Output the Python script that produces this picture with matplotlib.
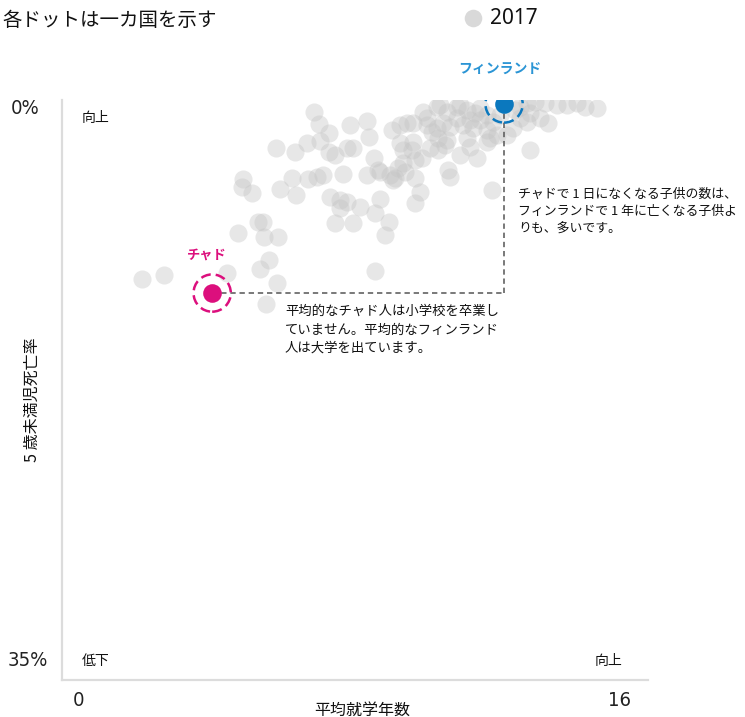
import matplotlib
matplotlib.use('Agg')
import matplotlib.pyplot as plt

# ---- data ----
schooling_years = [
    2.18, 2.79, 4.51, 5.57, 5.87, 5.41, 5.65, 4.81, 5.52, 5.90,
    5.35, 5.49, 4.94, 4.91, 5.19, 5.95, 6.28, 6.39, 6.72, 6.96,
    7.13, 7.67, 7.32, 7.59, 7.78, 7.59, 8.14, 7.45, 7.95, 8.55,
    8.68, 8.93, 8.82, 8.55, 5.84, 6.36, 6.69, 7.04, 7.29, 7.45,
    7.78, 7.95, 6.88, 7.02, 7.29, 7.86, 8.33, 8.38, 8.52, 8.63,
    8.33, 8.68, 9.09, 9.37, 9.64, 9.77, 9.64, 9.04, 9.01, 9.23,
    9.42, 9.58, 9.23, 9.31, 9.58, 9.56, 9.64, 9.31, 9.17, 9.83,
    9.97, 10.24, 10.51, 10.79, 11.06, 11.28, 11.41, 9.86, 10.32, 10.87,
    11.41, 11.60, 9.97, 10.24, 10.59, 10.95, 11.22, 11.60, 10.40, 11.77,
    10.27, 10.51, 11.06, 11.60, 11.88, 10.05, 10.27, 10.87, 11.33, 10.54,
    10.59, 12.15, 12.31, 11.69, 12.51, 12.70, 12.78, 13.05, 13.27, 12.70,
    12.91, 13.19, 13.52, 13.79, 14.06, 14.28, 14.61, 12.51, 12.78, 11.74,
    11.14, 8.96, 12.37, 10.79, 10.10, 11.14, 11.96, 10.46,
]
child_mortality = [
    10.80, 10.56, 10.44, 12.31, 11.04, 10.20, 9.66, 8.03, 8.27, 8.27,
    7.36, 7.36, 4.77, 5.25, 5.61, 5.37, 4.71, 5.73, 4.77, 4.65,
    4.53, 4.47, 5.85, 6.03, 6.16, 6.52, 6.46, 7.42, 7.42, 6.82,
    5.97, 7.36, 8.15, 10.32, 2.90, 3.14, 2.59, 2.47, 3.14, 3.32,
    2.90, 2.90, 0.72, 1.45, 1.99, 1.51, 1.27, 2.23, 3.50, 4.22,
    4.53, 4.34, 4.71, 4.34, 4.71, 5.55, 6.22, 4.83, 1.81, 1.51,
    1.39, 1.39, 2.59, 3.02, 2.53, 3.02, 3.62, 3.80, 4.10, 3.50,
    1.09, 0.42, 0.72, 0.42, 0.60, 0.78, 1.21, 0.72, 0.30, 0.30,
    0.48, 0.91, 1.51, 1.69, 1.63, 1.51, 1.69, 1.81, 1.39, 1.33,
    2.29, 2.41, 2.29, 2.53, 2.11, 2.90, 3.02, 3.32, 3.50, 4.22,
    4.65, 2.11, 1.69, 2.29, 1.09, 1.33, 0.78, 1.09, 1.39, 0.18,
    0.12, 0.18, 0.30, 0.30, 0.18, 0.42, 0.48, 0.42, 3.02, 5.43,
    2.84, 4.53, 0.60, 1.09, 1.93, 1.21, 0.91, 2.72,
]
chad_x, chad_y = 4.10, 11.65
finland_x, finland_y = 12.07, 0.24
year_label = "2017"
title = "各ドットは一カ国を示す"
x_title = "平均就学年数"
y_title = "5 歳未満児死亡率"
x_tick_labels = ["0", "16"]
y_tick_labels = ["0%", "35%"]
note_finland = "チャドで 1 日になくなる子供の数は、\nフィンランドで 1 年に亡くなる子供よ\nりも、多いです。"
note_chad = "平均的なチャド人は小学校を卒業し\nていません。平均的なフィンランド\n人は大学を出ています。"

# ---- style ----
CJK = ['Noto Sans CJK JP', 'DejaVu Sans']
plt.rcParams['font.family'] = CJK
CHAD = '#DC0F7D'
FIN = '#0B78BE'
FIN_LABEL = '#2B95D5'
GREY = '#c4c4c4'
SPINE = '#dcdcdc'
TXT = '#111111'
NUM = dict(family=['DejaVu Sans'], fontstretch='condensed', fontweight='light',
           fontsize=14.5, color='#222222')

W, H = 745, 717
def fx(px):
    return px / W
def fy(py):
    return 1 - py / H

fig = plt.figure(figsize=(W / 100, H / 100), dpi=100)
ax = fig.add_axes([fx(62), fy(680), (648 - 62) / W, (680 - 100) / H])
ax.set_xlim(0, 16)
ax.set_ylim(35, 0)

ax.scatter(schooling_years, child_mortality, s=170, color=GREY, alpha=0.4,
           linewidths=0, zorder=2)

# connector lines
ax.plot([chad_x, finland_x], [chad_y, chad_y], color='#555555', lw=1.1,
        ls=(0, (3.5, 2.5)), zorder=3)
ax.plot([finland_x, finland_x], [chad_y, finland_y], color='#555555', lw=1.1,
        ls=(0, (3.5, 2.5)), zorder=3)

# highlighted countries
for px_, py_, c in [(chad_x, chad_y, CHAD), (finland_x, finland_y, FIN)]:
    ax.scatter([px_], [py_], s=720, facecolors='none', edgecolors=c,
               linewidths=1.8, linestyle=(0, (4, 2)), zorder=4)
    ax.scatter([px_], [py_], s=180, color=c, linewidths=0, zorder=5)

for side in ['top', 'right']:
    ax.spines[side].set_visible(False)
for side in ['left', 'bottom']:
    ax.spines[side].set_color(SPINE)
    ax.spines[side].set_linewidth(1.6)
ax.set_xticks([])
ax.set_yticks([])

# labels for highlighted countries
fig.text(fx(207), fy(255), "チャド", color=CHAD, fontsize=9.5, fontweight='bold',
         ha='center', va='center')
fig.text(fx(500), fy(70), "フィンランド", color=FIN_LABEL, fontsize=10,
         fontweight='bold', ha='center', va='center')

# annotations
fig.text(fx(518), fy(188), note_finland, fontsize=9.3, color=TXT, ha='left',
         va='top', linespacing=1.42)
fig.text(fx(285), fy(304), note_chad, fontsize=9.6, color=TXT, ha='left',
         va='top', linespacing=1.4)

# corner labels
fig.text(fx(82), fy(118), "向上", fontsize=10, color=TXT, ha='left', va='center')
fig.text(fx(82), fy(661), "低下", fontsize=10, color=TXT, ha='left', va='center')
fig.text(fx(622), fy(661), "向上", fontsize=10, color=TXT, ha='right', va='center')

# tick labels
fig.text(fx(40), fy(109), y_tick_labels[0], ha='right', va='center', **NUM)
fig.text(fx(48), fy(661), y_tick_labels[1], ha='right', va='center', **NUM)
fig.text(fx(78), fy(700), x_tick_labels[0], ha='center', va='center', **NUM)
fig.text(fx(620), fy(700), x_tick_labels[1], ha='center', va='center', **NUM)

# axis titles
fig.text(fx(362), fy(710), x_title, fontsize=11.5, color=TXT, ha='center',
         va='center')
fig.text(fx(32), fy(400), y_title, fontsize=11.5, color=TXT, ha='center',
         va='center', rotation=90)

# title and legend
fig.text(fx(2), fy(20), title, fontsize=14, color=TXT, ha='left', va='center')
ax.scatter([fx(473)], [fy(18)], s=160, color='#d9d9d9', linewidths=0,
           transform=fig.transFigure, clip_on=False)
fig.text(fx(490), fy(18), year_label, family=['Noto Sans', 'DejaVu Sans'],
         fontsize=15, color=TXT, ha='left', va='center')

fig.savefig('out.png', dpi=100)
